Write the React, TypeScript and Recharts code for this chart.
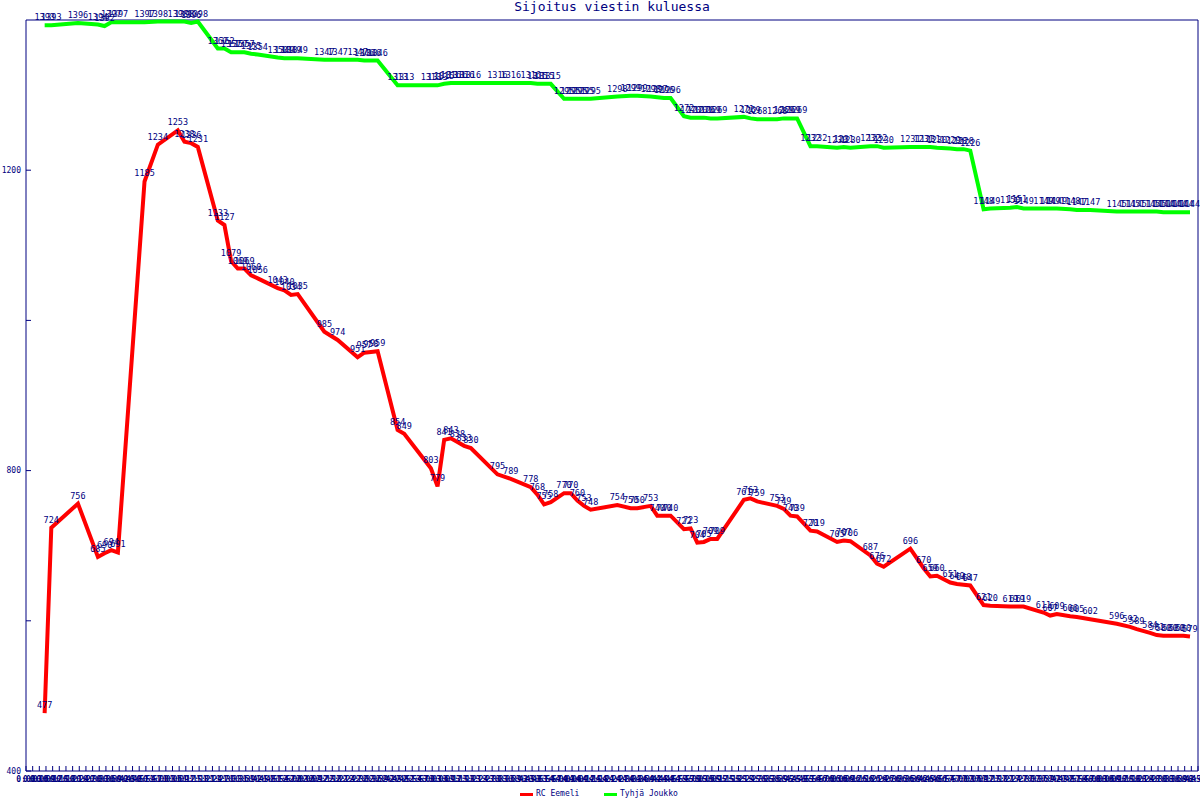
import React from 'react';
import { LineChart, Line, XAxis, YAxis, LabelList, ReferenceLine } from 'recharts';

const NAVY = '#000080';
const MONO = '"DejaVu Sans Mono", "Liberation Mono", monospace';

// checkpoint index of each reading (shared by both teams)
const positions = [
  2, 3, 7, 10, 11, 12, 13, 17, 19, 22,
  23, 24, 25, 28, 29, 30, 31, 32, 33, 34,
  37, 38, 39, 40, 44, 46, 49, 50, 51, 52,
  55, 56, 60, 61, 62, 63, 64, 65, 66, 70,
  72, 75, 76, 77, 78, 80, 81, 82, 83, 84,
  88, 90, 91, 93, 94, 95, 96, 98, 99, 100,
  101, 102, 103, 107, 108, 109, 112, 113, 114, 115,
  117, 118, 121, 122, 123, 126, 127, 128, 132, 134,
  135, 136, 138, 139, 140, 141, 143, 144, 147, 148,
  149, 152, 153, 154, 156, 157, 159, 163, 165, 166,
  168, 169, 170, 171, 172, 173, 174,
];

const rcEemeli = [
  477, 724, 756, 685, 690, 694, 691, 1185, 1234, 1253,
  1238, 1236, 1231, 1133, 1127, 1079, 1069, 1069, 1060, 1056,
  1043, 1040, 1034, 1035, 985, 974, 951, 957, 958, 959,
  854, 849, 803, 779, 841, 843, 838, 833, 830, 795,
  789, 778, 768, 755, 758, 770, 770, 760, 753, 748,
  754, 750, 750, 753, 740, 740, 740, 722, 723, 704,
  705, 709, 709, 761, 763, 759, 753, 749, 740, 739,
  720, 719, 705, 707, 706, 687, 676, 672, 696, 670,
  659, 660, 651, 649, 648, 647, 621, 620, 619, 619,
  619, 611, 607, 609, 606, 605, 602, 596, 592, 589,
  584, 581, 580, 580, 580, 580, 579,
];

const tyhjaJoukko = [
  1393, 1393, 1396, 1394, 1392, 1397, 1397, 1397, 1398, 1398,
  1398, 1396, 1398, 1362, 1362, 1357, 1357, 1357, 1355, 1354,
  1350, 1349, 1349, 1349, 1347, 1347, 1347, 1346, 1346, 1346,
  1313, 1313, 1313, 1313, 1315, 1316, 1316, 1316, 1316, 1316,
  1316, 1316, 1315, 1315, 1315, 1295, 1295, 1295, 1295, 1295,
  1298, 1299, 1299, 1298, 1297, 1296, 1296, 1272, 1270, 1270,
  1270, 1269, 1269, 1271, 1269, 1268, 1268, 1269, 1269, 1269,
  1232, 1232, 1230, 1231, 1230, 1232, 1232, 1230, 1231, 1231,
  1231, 1230, 1229, 1228, 1228, 1226, 1148, 1149, 1150, 1151,
  1149, 1149, 1149, 1149, 1148, 1147, 1147, 1145, 1145, 1145,
  1145, 1145, 1144, 1144, 1144, 1144, 1144,
];

const seriesNames = ['RC Eemeli', 'Tyhjä Joukko'];
const seriesColors = ['#ff0000', '#00ff00'];

const yTicks = [400, 600, 800, 1000, 1200];
const yTickLabels = ['400', '', '800', '', '1200'];

// x ticks: one per checkpoint slot (labels are illegible in the reference: elapsed time)
const xTicks = Array.from({ length: 177 }, (_, i) => i - 0.8);
const xTickLabels = xTicks.map((_, i) => {
  const m = i * 3;
  return `${Math.floor(m / 60)}:${String(m % 60).padStart(2, '0')}`;
});

const data = positions.map((x, i) => ({ x, rc: rcEemeli[i], tj: tyhjaJoukko[i] }));

const labelStyle = { fill: NAVY, fontSize: 8.5, fontFamily: MONO };

export default function App() {
  return (
    <div style={{ position: 'absolute', left: 0, top: 0, width: 1200, height: 800, background: '#fff' }}>
      <div
        style={{
          position: 'absolute', left: 26, width: 1172, top: 0, textAlign: 'center',
          fontFamily: MONO, fontSize: 13, lineHeight: '13px', color: NAVY,
        }}
      >
        Sijoitus viestin kuluessa
      </div>
      <LineChart width={1200} height={800} data={data} margin={{ top: 20, right: 2, bottom: 0, left: 0 }}>
        <XAxis
          type="number"
          dataKey="x"
          domain={[-0.8, 175.2]}
          ticks={xTicks}
          interval={0}
          tickFormatter={(_v: number, i: number) => xTickLabels[i]}
          height={29}
          stroke={NAVY}
          tickSize={-5}
          tickMargin={10}
          tick={{ fontSize: 8, fill: NAVY, fontFamily: MONO, fontWeight: 'bold' }}
        />
        <YAxis
          type="number"
          domain={[400, 1400]}
          ticks={yTicks}
          interval={0}
          tickFormatter={(v: number) => yTickLabels[yTicks.indexOf(v)]}
          width={26}
          stroke={NAVY}
          tickSize={-5}
          tickMargin={10}
          tick={{ fontSize: 8, fill: NAVY, fontFamily: MONO }}
        />
        <ReferenceLine y={1400} stroke={NAVY} strokeWidth={1} />
        <ReferenceLine x={175.2} stroke={NAVY} strokeWidth={1} />
        <Line
          type="linear"
          dataKey="rc"
          name={seriesNames[0]}
          stroke={seriesColors[0]}
          strokeWidth={4}
          dot={false}
          activeDot={false}
          isAnimationActive={false}
        >
          <LabelList dataKey="rc" position="top" offset={5} {...labelStyle} />
        </Line>
        <Line
          type="linear"
          dataKey="tj"
          name={seriesNames[1]}
          stroke={seriesColors[1]}
          strokeWidth={4}
          dot={false}
          activeDot={false}
          isAnimationActive={false}
        >
          <LabelList dataKey="tj" position="top" offset={5} {...labelStyle} />
        </Line>
      </LineChart>
      <div style={{ position: 'absolute', top: 789, left: 0, width: 1200, height: 11, fontFamily: MONO, fontSize: 8, color: NAVY }}>
        <div style={{ position: 'absolute', left: 520, top: 4, width: 13, height: 3, background: seriesColors[0] }} />
        <div style={{ position: 'absolute', left: 536, top: 0, lineHeight: '10px' }}>{seriesNames[0]}</div>
        <div style={{ position: 'absolute', left: 604, top: 4, width: 13, height: 3, background: seriesColors[1] }} />
        <div style={{ position: 'absolute', left: 620, top: 0, lineHeight: '10px' }}>{seriesNames[1]}</div>
      </div>
    </div>
  );
}
